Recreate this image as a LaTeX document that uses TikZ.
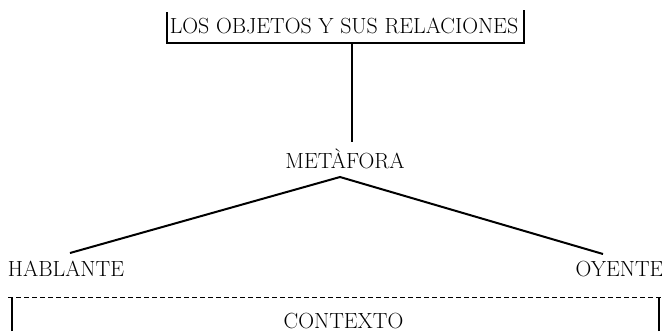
\documentclass[tikz,border=0pt]{standalone}
\begin{document}
\begin{tikzpicture}[x=1bp,y=-1bp,
  lbl/.style={anchor=base,inner sep=0pt,font=\fontsize{22}{24}\selectfont},
  solidline/.style={line width=2bp},
  dashline/.style={line width=1bp,dash pattern=on 5bp off 3bp}]
\useasboundingbox (0,0) rectangle (662,331);
\node[lbl] (top) at (344,33) {LOS OBJETOS Y SUS RELACIONES};
\node[lbl] (met) at (345,168) {MET\`AFORA};
\node[lbl] (hab) at (66,276) {HABLANTE};
\node[lbl] (oye) at (619.5,276) {OYENTE};
\node[lbl] (ctx) at (343.5,328) {CONTEXTO};
% top bracket
\coordinate (tl) at (166.5,12);
\coordinate (tr) at (524,10);
\draw[solidline] (tl) |- (524,43) coordinate (br) -- (tr);
\coordinate (stemtop) at (351.7,43);
\coordinate (stembot) at (351.7,142);
\draw[solidline] (stemtop) -- (stembot);
% branches
\coordinate (apex) at (340,177);
\coordinate (habend) at (70,253);
\coordinate (oyeend) at (603,254);
\draw[solidline] (habend) -- (apex) -- (oyeend);
% context bracket
\coordinate (cl) at (11.7,331);
\coordinate (cr) at (659,331);
\draw[dashline] (8,297) -- (661,297);
\draw[solidline] (cl) -- (11.7,298);
\draw[solidline] (cr) -- (659,297);
\end{tikzpicture}
\end{document}
